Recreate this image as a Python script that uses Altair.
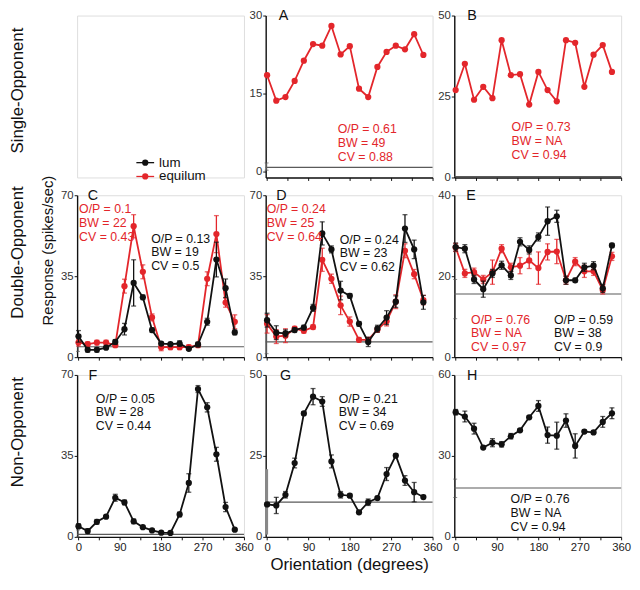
import altair as alt
import pandas as pd

angles = list(range(0, 360, 20))

# ---- data (spikes/sec) ----
A_equilum = [18.5, 13.6, 14.3, 17.4, 21.3, 24.5, 24.2, 28.0, 22.5, 24.1, 15.9, 14.3, 20.1, 23.0, 24.2, 23.5, 26.4, 22.4]
B_equilum = [27.0, 35.1, 24.0, 28.0, 24.5, 42.4, 31.6, 31.9, 22.5, 32.6, 27.0, 23.5, 42.4, 41.6, 28.0, 37.9, 40.9, 32.6]

C_lum = [9.0, 3.2, 3.2, 4.1, 6.6, 12.1, 32.1, 25.9, 11.7, 5.9, 5.6, 5.9, 3.6, 5.5, 15.3, 42.2, 29.8, 10.7]
C_lum_err = [2.5, 1, 1, 0.5, 1, 2.5, 10, 1, 1, 0.5, 0.5, 1.2, 0.5, 1, 1.5, 7.5, 4, 1]
C_equilum = [6.3, 5.6, 6.3, 6.3, 5.2, 30.7, 56.6, 36.9, 17.2, 4.3, 4.3, 4.3, 4.3, 5.2, 33.9, 53.2, 23.6, 15.3]
C_equilum_err = [1.5, 1, 1, 1, 1, 3, 5, 3, 1.5, 1.5, 1, 1, 1, 1, 3, 8, 2, 3]

D_lum = [16.0, 10.6, 10.3, 11.7, 12.8, 21.3, 53.5, 46.6, 28.8, 26.5, 14.4, 6.6, 12.3, 17.1, 24.0, 55.6, 46.6, 23.7]
D_lum_err = [3, 3, 1.5, 1, 1, 1.5, 5, 1.5, 4, 1, 1, 2, 1.5, 3, 2.5, 6, 4, 3]
D_equilum = [14.4, 8.9, 9.3, 12.3, 11.4, 13.0, 42.1, 33.9, 22.4, 15.4, 7.5, 7.5, 11.9, 15.5, 24.0, 46.0, 35.9, 24.7]
D_equilum_err = [4, 3, 3, 1, 1, 1, 5, 2, 4, 2, 1, 1, 1, 2, 3, 3, 2, 2]

E_lum = [27.2, 26.8, 19.2, 16.8, 20.7, 22.7, 20.2, 28.5, 26.5, 29.7, 33.6, 34.8, 19.0, 19.0, 22.2, 22.6, 17.0, 27.6]
E_lum_err = [1, 1, 1, 2, 1, 1, 1, 1, 1, 1, 3.5, 1.5, 1, 0.5, 1, 1, 1, 0.5]
E_equilum = [27.1, 20.7, 21.0, 19.2, 21.0, 26.8, 22.2, 22.6, 23.9, 22.0, 26.0, 26.1, 19.0, 23.6, 21.2, 21.2, 16.6, 24.9]
E_equilum_err = [1, 1, 1, 1, 3, 1, 1, 2, 2, 4, 2, 3, 1, 1, 1.5, 1, 1, 1]

F_lum = [4.6, 2.5, 6.5, 8.75, 16.9, 14.9, 6.7, 4.2, 2.8, 1.8, 1.7, 9.7, 23.3, 63.9, 56.0, 35.7, 12.9, 3.1]
F_lum_err = [1, 1, 1, 0.5, 1.5, 1, 1, 0.5, 0.5, 0.5, 0.5, 1, 4, 1.5, 2, 3, 2, 0.5]
G_lum = [10.0, 9.7, 13.0, 22.8, 38.1, 43.3, 41.8, 23.3, 13.0, 12.7, 7.6, 10.7, 12.0, 19.4, 25.1, 17.4, 13.8, 12.3]
G_lum_err = [0.5, 2.5, 1, 1.5, 0.5, 2.5, 1.5, 2, 1, 0.5, 0.5, 1, 0.5, 2, 0.5, 1.5, 3, 0.5]
H_lum = [46.2, 44.6, 40.1, 33.1, 34.9, 34.3, 37.3, 39.5, 44.3, 48.5, 37.7, 37.5, 43.1, 33.7, 39.0, 38.7, 42.6, 45.8]
H_lum_err = [1, 2, 2, 0.5, 1.5, 1, 1, 0.5, 0.5, 2, 3, 5, 2.5, 4.5, 0.5, 0.5, 2, 2]

# spontaneous (baseline) rate: value, low, high
base_A = (0.75, 0.2, 1.6)
base_B = (0.3, 0.3, 0.3)
base_C = (4.5, 2.5, 6.5)
base_D = (6.6, 1.5, 15.0)
base_E = (15.6, 9.5, 19.2)
base_F = (1.1, 0.0, 3.0)
base_G = (10.7, 0.7, 20.9)
base_H = (18.1, 14.6, 21.4)

notes_A = ["O/P = 0.61", "BW = 49", "CV = 0.88"]
notes_B = ["O/P = 0.73", "BW = NA", "CV = 0.94"]
notes_C_equi = ["O/P = 0.1", "BW = 22", "CV = 0.43"]
notes_C_lum = ["O/P = 0.13", "BW = 19", "CV = 0.5"]
notes_D_equi = ["O/P = 0.24", "BW = 25", "CV = 0.64"]
notes_D_lum = ["O/P = 0.24", "BW = 23", "CV = 0.62"]
notes_E_equi = ["O/P = 0.76", "BW = NA", "CV = 0.97"]
notes_E_lum = ["O/P = 0.59", "BW = 38", "CV = 0.9"]
notes_F = ["O/P = 0.05", "BW = 28", "CV = 0.44"]
notes_G = ["O/P = 0.21", "BW = 34", "CV = 0.69"]
notes_H = ["O/P = 0.76", "BW = NA", "CV = 0.94"]

legend_labels = ["lum", "equilum"]
row_labels = ["Single-Opponent", "Double-Opponent", "Non-Opponent"]

RED = "#e3262b"
BLK = "#111111"
GRY = "#5a5a5a"
FONT = "Liberation Sans"
W, H = 169, 164
XDOM = [-3, 360]
dummy = pd.DataFrame({"d": [0]})


def text_layer(lines, x, y, color=BLK, size=12.5, align="left", baseline="top", angle=0, lh=None):
    kw = dict(align=align, baseline=baseline, fontSize=size, color=color, font=FONT)
    if lh:
        kw["lineHeight"] = lh
    if angle:
        kw["angle"] = angle
    return alt.Chart(dummy).mark_text(**kw).encode(
        x=alt.value(x), y=alt.value(y), text=alt.value(lines))


def make_panel(ydom, yticks, series, base, letter, letter_x, notes, bottom=False,
               xtitle=None, band=False, extra=None):
    xaxis_kw = dict(values=list(range(0, 361, 45)), labels=bottom,
                    labelExpr="datum.value % 90 == 0 ? datum.label : ''",
                    labelFlush=False, labelOverlap=False, labelFontSize=11.5,
                    labelColor="#222", labelPadding=2, tickSize=3, tickColor=BLK,
                    domainColor=BLK, domainWidth=1.4, grid=False,
                    titleFontSize=17, titleFontWeight="normal", titlePadding=4,
                    titleColor=BLK, titleFont=FONT, labelFont=FONT)
    xaxis = alt.Axis(title=xtitle, **xaxis_kw) if xtitle else alt.Axis(title=None, **xaxis_kw)
    yaxis = alt.Axis(values=yticks, labelFontSize=11.5, labelColor="#333", labelPadding=1,
                     tickSize=3, tickColor=BLK, domainColor=BLK, domainWidth=1.4,
                     grid=False, title=None, labelFlush=False, labelOverlap=False,
                     labelFont=FONT)
    xs = alt.Scale(domain=XDOM, nice=False, zero=False)
    ys = alt.Scale(domain=ydom, nice=False, zero=False)

    def X(f):
        return alt.X(f"{f}:Q", scale=xs, axis=xaxis)

    def Y(f):
        return alt.Y(f"{f}:Q", scale=ys, axis=yaxis)

    layers = []
    bv, blo, bhi = base
    layers.append(alt.Chart(pd.DataFrame({"a": [XDOM[0]], "a2": [360], "v": [bv]}))
                  .mark_rule(color=GRY, strokeWidth=1.2)
                  .encode(x=X("a"), x2="a2", y=Y("v")))
    if bhi > blo:
        layers.append(alt.Chart(pd.DataFrame({"a": [-1], "lo": [blo], "hi": [bhi]}))
                      .mark_rule(color="#888888" if band else GRY, strokeWidth=3 if band else 1.1)
                      .encode(x=X("a"), y=Y("lo"), y2="hi"))
        if not band:
            layers.append(alt.Chart(pd.DataFrame({"a": [-1, -1], "v": [blo, bhi]}))
                          .mark_tick(orient="horizontal", size=4, thickness=1, color=GRY)
                          .encode(x=X("a"), y=Y("v")))
    for vals, errs, color in series:
        if errs is not None:
            lo = [v - e for v, e in zip(vals, errs)]
            hi = [v + e for v, e in zip(vals, errs)]
            layers.append(alt.Chart(pd.DataFrame({"a": angles, "lo": lo, "hi": hi}))
                          .mark_rule(color=color, strokeWidth=1.3)
                          .encode(x=X("a"), y=Y("lo"), y2="hi"))
            layers.append(alt.Chart(pd.DataFrame({"a": angles + angles, "v": lo + hi}))
                          .mark_tick(orient="horizontal", size=5, thickness=1.3, color=color)
                          .encode(x=X("a"), y=Y("v")))
        layers.append(alt.Chart(pd.DataFrame({"a": angles, "v": vals}))
                      .mark_line(color=color, strokeWidth=1.8,
                                 point=alt.OverlayMarkDef(filled=True, color=color, size=40, opacity=1))
                      .encode(x=X("a"), y=Y("v")))
    layers.append(text_layer(letter, letter_x, 1, size=14.5, align="center", baseline="middle"))
    for lines, x, y, color in notes:
        layers.append(text_layer(lines, x, y, color=color, lh=14))
    if extra:
        layers.extend(extra)
    return alt.layer(*layers).properties(width=W, height=H)


# empty top-left cell: legend and row label
legend_panel = alt.layer(
    alt.Chart(dummy).mark_rule(color=BLK, strokeWidth=1.3).encode(
        x=alt.value(60), x2=alt.value(78), y=alt.value(149)),
    alt.Chart(dummy).mark_point(filled=True, color=BLK, size=40, opacity=1).encode(
        x=alt.value(69), y=alt.value(149)),
    alt.Chart(dummy).mark_rule(color=RED, strokeWidth=1.3).encode(
        x=alt.value(60), x2=alt.value(78), y=alt.value(163)),
    alt.Chart(dummy).mark_point(filled=True, color=RED, size=40, opacity=1).encode(
        x=alt.value(69), y=alt.value(163)),
    text_layer(legend_labels[0], 83, 149, size=13.5, baseline="middle"),
    text_layer(legend_labels[1], 83, 163, size=13.5, baseline="middle"),
    text_layer(row_labels[0], -60, 76, size=17, align="center", baseline="middle", angle=270),
).properties(width=W, height=H)

pA = make_panel([-1.2, 30], [0, 15, 30], [(A_equilum, None, RED)], base_A, "A", 18,
                [(notes_A, 73, 109, RED)])
pB = make_panel([0, 50], [0, 25, 50], [(B_equilum, None, RED)], base_B, "B", 18,
                [(notes_B, 58, 107, RED)])

pC = make_panel([0, 70], [0, 35, 70],
                [(C_equilum, C_equilum_err, RED), (C_lum, C_lum_err, BLK)], base_C, "C", 16,
                [(notes_C_equi, 2, 8, RED), (notes_C_lum, 75, 38, BLK)],
                extra=[text_layer(row_labels[1], -60, 58, size=17, align="center", baseline="middle", angle=270),
                       text_layer("Response (spikes/sec)", -29, 56, size=15, align="center", baseline="middle", angle=270)])
pD = make_panel([0, 70], [0, 35, 70],
                [(D_equilum, D_equilum_err, RED), (D_lum, D_lum_err, BLK)], base_D, "D", 16,
                [(notes_D_equi, 1, 8, RED), (notes_D_lum, 75, 39, BLK)])
pE = make_panel([0, 40], [0, 20, 40],
                [(E_equilum, E_equilum_err, RED), (E_lum, E_lum_err, BLK)], base_E, "E", 17,
                [(notes_E_equi, 17, 120, RED), (notes_E_lum, 101, 120, BLK)])

pF = make_panel([0, 70], [0, 35, 70], [(F_lum, F_lum_err, BLK)], base_F, "F", 16,
                [(notes_F, 19, 18, BLK)], bottom=True,
                extra=[text_layer(row_labels[2], -60, 58, size=17, align="center", baseline="middle", angle=270)])
pG = make_panel([0, 50], [0, 25, 50], [(G_lum, G_lum_err, BLK)], base_G, "G", 20,
                [(notes_G, 74, 18, BLK)], bottom=True, xtitle="Orientation (degrees)", band=True)
pH = make_panel([0, 60], [0, 30, 60], [(H_lum, H_lum_err, BLK)], base_H, "H", 18,
                [(notes_H, 57, 120, BLK)], bottom=True)

chart = alt.concat(legend_panel, pA, pB, pC, pD, pE, pF, pG, pH,
                   columns=3, spacing={"row": 18, "column": 22}, bounds="flush").properties(
    padding={"left": 0, "top": -4, "right": 0, "bottom": 0}
).configure_view(stroke=None).configure(font=FONT)

chart.save("out.html", embed_options={"renderer": "svg", "actions": False})
